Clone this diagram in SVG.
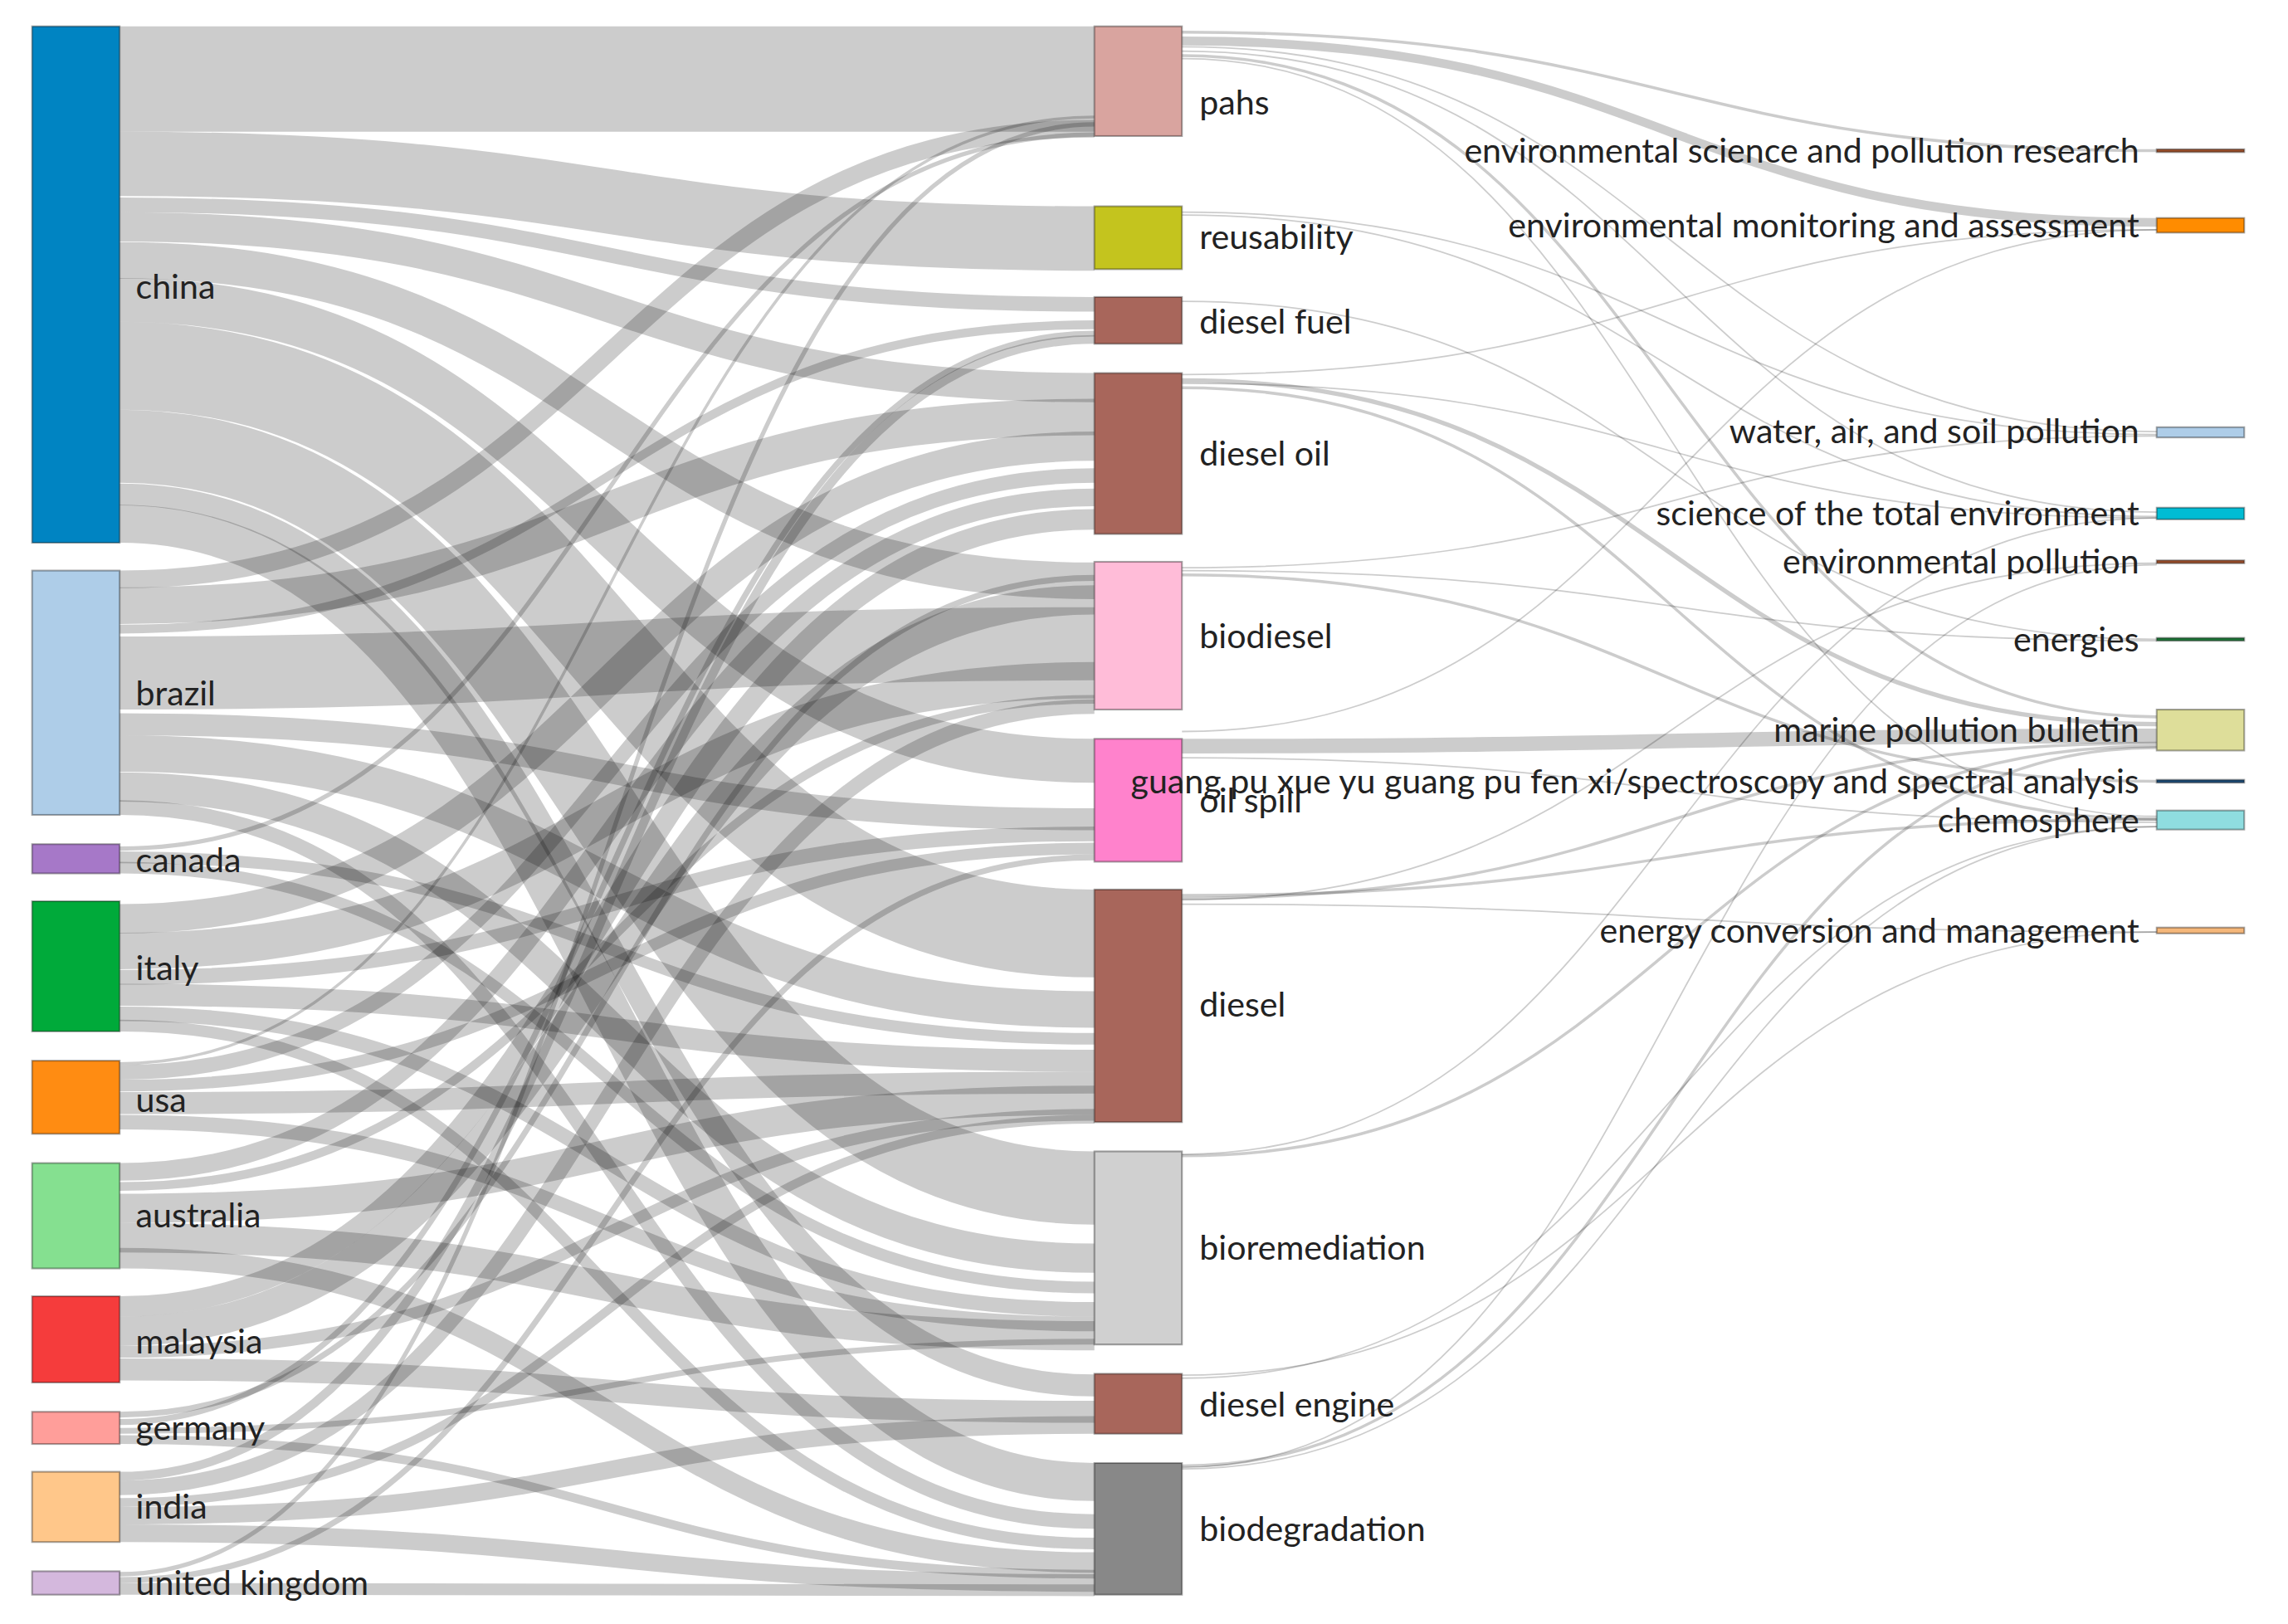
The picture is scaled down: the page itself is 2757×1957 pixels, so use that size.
<svg xmlns="http://www.w3.org/2000/svg" width="2757" height="1957" viewBox="0 0 2757 1957">
<style>
.l{fill:none;stroke:#000;stroke-opacity:0.2}
.n{stroke:#000;stroke-opacity:0.35;stroke-width:1.2}
text{font-family:Lato,"Open Sans","Liberation Sans",sans-serif;font-size:23.4px;fill:#222;dominant-baseline:central}
.r{text-anchor:end}
</style>
<rect width="2757" height="1957" fill="#fff"/>
<g transform="scale(1.7583,1.763)">
<g id="links">
<path class="l" stroke-width="72" d="M82,54 C416,54 416,54 750,54"/>
<path class="l" stroke-width="44" d="M82,112 C416,112 416,163 750,163"/>
<path class="l" stroke-width="10" d="M82,140 C416,140 416,208 750,208"/>
<path class="l" stroke-width="20" d="M82,155 C416,155 416,265 750,265"/>
<path class="l" stroke-width="25" d="M82,178 C416,178 416,397 750,397"/>
<path class="l" stroke-width="30" d="M82,205 C416,205 416,520 750,520"/>
<path class="l" stroke-width="60" d="M82,250 C416,250 416,638 750,638"/>
<path class="l" stroke-width="50" d="M82,305 C416,305 416,812 750,812"/>
<path class="l" stroke-width="15" d="M82,338 C416,338 416,947 750,947"/>
<path class="l" stroke-width="26" d="M82,358 C416,358 416,1013 750,1013"/>
<path class="l" stroke-width="12" d="M82,396 C416,396 416,88 750,88"/>
<path class="l" stroke-width="25" d="M82,414 C416,414 416,285 750,285"/>
<path class="l" stroke-width="6" d="M82,430 C416,430 416,222 750,222"/>
<path class="l" stroke-width="50" d="M82,460 C416,460 416,440 750,440"/>
<path class="l" stroke-width="15" d="M82,495 C416,495 416,560 750,560"/>
<path class="l" stroke-width="25" d="M82,515 C416,515 416,690 750,690"/>
<path class="l" stroke-width="20" d="M82,538 C416,538 416,860 750,860"/>
<path class="l" stroke-width="10" d="M82,552 C416,552 416,1040 750,1040"/>
<path class="l" stroke-width="3" d="M82,580 C416,580 416,92 750,92"/>
<path class="l" stroke-width="8" d="M82,586 C416,586 416,710 750,710"/>
<path class="l" stroke-width="8" d="M82,593 C416,593 416,880 750,880"/>
<path class="l" stroke-width="20" d="M82,628 C416,628 416,305 750,305"/>
<path class="l" stroke-width="25" d="M82,650 C416,650 416,465 750,465"/>
<path class="l" stroke-width="10" d="M82,668 C416,668 416,570 750,570"/>
<path class="l" stroke-width="15" d="M82,680 C416,680 416,725 750,725"/>
<path class="l" stroke-width="10" d="M82,693 C416,693 416,895 750,895"/>
<path class="l" stroke-width="8" d="M82,701 C416,701 416,1055 750,1055"/>
<path class="l" stroke-width="2" d="M82,727 C416,727 416,80 750,80"/>
<path class="l" stroke-width="10" d="M82,733 C416,733 416,325 750,325"/>
<path class="l" stroke-width="8" d="M82,742 C416,742 416,580 750,580"/>
<path class="l" stroke-width="15" d="M82,754 C416,754 416,740 750,740"/>
<path class="l" stroke-width="10" d="M82,767 C416,767 416,905 750,905"/>
<path class="l" stroke-width="12" d="M82,801 C416,801 416,340 750,340"/>
<path class="l" stroke-width="6" d="M82,811 C416,811 416,478 750,478"/>
<path class="l" stroke-width="20" d="M82,826 C416,826 416,752 750,752"/>
<path class="l" stroke-width="20" d="M82,846 C416,846 416,913 750,913"/>
<path class="l" stroke-width="14" d="M82,860 C416,860 416,1068 750,1068"/>
<path class="l" stroke-width="14" d="M82,893 C416,893 416,355 750,355"/>
<path class="l" stroke-width="20" d="M82,910 C416,910 416,410 750,410"/>
<path class="l" stroke-width="8" d="M82,924 C416,924 416,762 750,762"/>
<path class="l" stroke-width="15" d="M82,936 C416,936 416,965 750,965"/>
<path class="l" stroke-width="4" d="M82,967 C416,967 416,395 750,395"/>
<path class="l" stroke-width="4" d="M82,972 C416,972 416,228 750,228"/>
<path class="l" stroke-width="4" d="M82,978 C416,978 416,917 750,917"/>
<path class="l" stroke-width="6" d="M82,984 C416,984 416,1076 750,1076"/>
<path class="l" stroke-width="6" d="M82,1009 C416,1009 416,232 750,232"/>
<path class="l" stroke-width="10" d="M82,1017 C416,1017 416,483 750,483"/>
<path class="l" stroke-width="6" d="M82,1027 C416,1027 416,765 750,765"/>
<path class="l" stroke-width="12" d="M82,1036 C416,1036 416,974 750,974"/>
<path class="l" stroke-width="12" d="M82,1048 C416,1048 416,1082 750,1082"/>
<path class="l" stroke-width="3" d="M82,1076 C416,1076 416,85 750,85"/>
<path class="l" stroke-width="4" d="M82,1080 C416,1080 416,586 750,586"/>
<path class="l" stroke-width="8" d="M82,1086 C416,1086 416,1087 750,1087"/>
<path class="l" stroke-width="6" d="M810,28 C1144,28 1144,152 1478,152"/>
<path class="l" stroke-width="2" d="M810,22 C1144,22 1144,103 1478,103"/>
<path class="l" stroke-width="1" d="M810,32 C1144,32 1144,295 1478,295"/>
<path class="l" stroke-width="1" d="M810,35 C1144,35 1144,350 1478,350"/>
<path class="l" stroke-width="2" d="M810,38 C1144,38 1144,490 1478,490"/>
<path class="l" stroke-width="1" d="M810,40 C1144,40 1144,558 1478,558"/>
<path class="l" stroke-width="1" d="M810,145 C1144,145 1144,297 1478,297"/>
<path class="l" stroke-width="1" d="M810,147 C1144,147 1144,353 1478,353"/>
<path class="l" stroke-width="1" d="M810,206 C1144,206 1144,437 1478,437"/>
<path class="l" stroke-width="1" d="M810,256 C1144,256 1144,157 1478,157"/>
<path class="l" stroke-width="3" d="M810,260 C1144,260 1144,495 1478,495"/>
<path class="l" stroke-width="1" d="M810,262 C1144,262 1144,354 1478,354"/>
<path class="l" stroke-width="2" d="M810,265 C1144,265 1144,560 1478,560"/>
<path class="l" stroke-width="1" d="M810,388 C1144,388 1144,298 1478,298"/>
<path class="l" stroke-width="1" d="M810,390 C1144,390 1144,438 1478,438"/>
<path class="l" stroke-width="2" d="M810,393 C1144,393 1144,534 1478,534"/>
<path class="l" stroke-width="1" d="M810,500 C1144,500 1144,157 1478,157"/>
<path class="l" stroke-width="10" d="M810,510 C1144,510 1144,503 1478,503"/>
<path class="l" stroke-width="1" d="M810,518 C1144,518 1144,562 1478,562"/>
<path class="l" stroke-width="2" d="M810,612 C1144,612 1144,560 1478,560"/>
<path class="l" stroke-width="2" d="M810,614 C1144,614 1144,508 1478,508"/>
<path class="l" stroke-width="1" d="M810,618 C1144,618 1144,637 1478,637"/>
<path class="l" stroke-width="1" d="M810,615 C1144,615 1144,385 1478,385"/>
<path class="l" stroke-width="2" d="M810,790 C1144,790 1144,510 1478,510"/>
<path class="l" stroke-width="1" d="M810,789 C1144,789 1144,354 1478,354"/>
<path class="l" stroke-width="1" d="M810,940 C1144,940 1144,637 1478,637"/>
<path class="l" stroke-width="1" d="M810,942 C1144,942 1144,565 1478,565"/>
<path class="l" stroke-width="2" d="M810,1002 C1144,1002 1144,511 1478,511"/>
<path class="l" stroke-width="1" d="M810,1004 C1144,1004 1144,565 1478,565"/>
<path class="l" stroke-width="1" d="M810,1003 C1144,1003 1144,386 1478,386"/>
</g>
<g id="china"><rect class="n" x="22" y="18" width="60" height="353" fill="#0084c2"/><text x="93" y="195">china</text></g>
<g id="brazil"><rect class="n" x="22" y="390" width="60" height="167" fill="#aecde8"/><text x="93" y="473">brazil</text></g>
<g id="canada"><rect class="n" x="22" y="577" width="60" height="20" fill="#a678c8"/><text x="93" y="587">canada</text></g>
<g id="italy"><rect class="n" x="22" y="616" width="60" height="89" fill="#00aa3a"/><text x="93" y="661">italy</text></g>
<g id="usa"><rect class="n" x="22" y="725" width="60" height="50" fill="#ff8c12"/><text x="93" y="751">usa</text></g>
<g id="australia"><rect class="n" x="22" y="795" width="60" height="72" fill="#85e090"/><text x="93" y="830">australia</text></g>
<g id="malaysia"><rect class="n" x="22" y="886" width="60" height="59" fill="#f53c3c"/><text x="93" y="916">malaysia</text></g>
<g id="germany"><rect class="n" x="22" y="965" width="60" height="22" fill="#ff9e9a"/><text x="93" y="975">germany</text></g>
<g id="india"><rect class="n" x="22" y="1006" width="60" height="48" fill="#ffc78a"/><text x="93" y="1029">india</text></g>
<g id="united-kingdom"><rect class="n" x="22" y="1074" width="60" height="16" fill="#d4b8dd"/><text x="93" y="1081">united kingdom</text></g>
<g id="pahs"><rect class="n" x="750" y="18" width="60" height="75" fill="#d9a49f"/><text x="822" y="69">pahs</text></g>
<g id="reusability"><rect class="n" x="750" y="141" width="60" height="43" fill="#c4c41e"/><text x="822" y="161">reusability</text></g>
<g id="diesel-fuel"><rect class="n" x="750" y="203" width="60" height="32" fill="#a8665b"/><text x="822" y="219">diesel fuel</text></g>
<g id="diesel-oil"><rect class="n" x="750" y="255" width="60" height="110" fill="#a8665b"/><text x="822" y="309">diesel oil</text></g>
<g id="biodiesel"><rect class="n" x="750" y="384" width="60" height="101" fill="#ffbcd8"/><text x="822" y="434">biodiesel</text></g>
<g id="oil-spill"><rect class="n" x="750" y="505" width="60" height="84" fill="#ff82cc"/><text x="822" y="546">oil spill</text></g>
<g id="diesel"><rect class="n" x="750" y="608" width="60" height="159" fill="#a8665b"/><text x="822" y="686">diesel</text></g>
<g id="bioremediation"><rect class="n" x="750" y="787" width="60" height="132" fill="#d0d0d0"/><text x="822" y="852">bioremediation</text></g>
<g id="diesel-engine"><rect class="n" x="750" y="939" width="60" height="41" fill="#a8665b"/><text x="822" y="959">diesel engine</text></g>
<g id="biodegradation"><rect class="n" x="750" y="1000" width="60" height="90" fill="#888888"/><text x="822" y="1044">biodegradation</text></g>
<g id="env-sci-poll-res"><rect class="n" x="1478" y="102" width="60" height="2" fill="#a0522d"/><text class="r" x="1466" y="102">environmental science and pollution research</text></g>
<g id="env-monitoring"><rect class="n" x="1478" y="149" width="60" height="10" fill="#ff8c00"/><text class="r" x="1466" y="153">environmental monitoring and assessment</text></g>
<g id="water-air-soil"><rect class="n" x="1478" y="292" width="60" height="7" fill="#aecde8"/><text class="r" x="1466" y="294">water, air, and soil pollution</text></g>
<g id="sci-total-env"><rect class="n" x="1478" y="347" width="60" height="8" fill="#00bcd4"/><text class="r" x="1466" y="350">science of the total environment</text></g>
<g id="env-pollution"><rect class="n" x="1478" y="383" width="60" height="2" fill="#a0522d"/><text class="r" x="1466" y="383">environmental pollution</text></g>
<g id="energies"><rect class="n" x="1478" y="436" width="60" height="2" fill="#1f7a3a"/><text class="r" x="1466" y="436">energies</text></g>
<g id="marine-poll"><rect class="n" x="1478" y="485" width="60" height="28" fill="#dede9a"/><text class="r" x="1466" y="498">marine pollution bulletin</text></g>
<g id="guang-pu"><rect class="n" x="1478" y="533" width="60" height="2" fill="#1f4e79"/><text class="r" x="1466" y="533">guang pu xue yu guang pu fen xi/spectroscopy and spectral analysis</text></g>
<g id="chemosphere"><rect class="n" x="1478" y="554" width="60" height="13" fill="#8fdde0"/><text class="r" x="1466" y="560">chemosphere</text></g>
<g id="energy-conv"><rect class="n" x="1478" y="634" width="60" height="4" fill="#f5b77a"/><text class="r" x="1466" y="635">energy conversion and management</text></g>
</g>
</svg>
